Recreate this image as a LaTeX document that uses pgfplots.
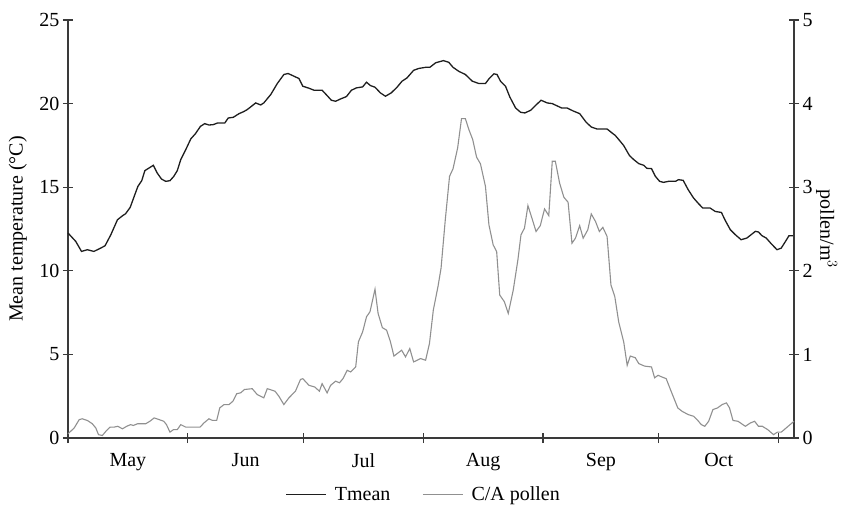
\documentclass[border=0pt]{standalone}
\usepackage{pgfplots}
\pgfplotsset{compat=1.18}
\usepackage{pgfplotstable}
\usepackage{fontspec}
\setmainfont{Liberation Serif}

\definecolor{tcol}{HTML}{1E1E1E}
\definecolor{pcol}{HTML}{909090}
\definecolor{axcol}{HTML}{3A3A3A}

% Daily mean temperature (day 0 = 1 May)
\pgfplotstableread{
day T
0.0 12.26
2.0 11.76
3.5 11.16
5.0 11.26
6.7 11.16
8.5 11.36
9.6 11.50
11.1 12.16
12.8 13.05
14.1 13.29
14.9 13.41
16.1 13.79
17.3 14.55
18.1 15.05
19.1 15.39
19.9 15.99
21.0 16.15
22.1 16.31
23.1 15.85
24.2 15.49
25.3 15.35
26.4 15.39
27.4 15.65
28.3 15.99
29.2 16.65
30.5 17.25
31.8 17.89
33.0 18.20
34.3 18.64
35.4 18.80
36.5 18.72
37.6 18.74
38.7 18.84
40.6 18.84
41.5 19.14
42.8 19.18
44.3 19.40
45.5 19.52
46.4 19.64
47.3 19.80
48.6 20.04
49.9 19.92
50.7 20.04
52.5 20.54
54.2 21.20
55.9 21.74
57.0 21.80
58.5 21.64
59.8 21.50
60.8 21.04
62.4 20.92
63.7 20.80
65.8 20.80
67.1 20.48
68.2 20.20
69.3 20.14
70.6 20.28
72.1 20.42
73.4 20.80
74.7 20.94
76.3 21.00
77.3 21.28
78.3 21.08
79.5 20.98
80.9 20.64
82.2 20.44
83.7 20.64
85.2 20.98
86.5 21.34
87.8 21.54
89.5 21.99
90.8 22.10
92.6 22.17
93.7 22.17
95.2 22.44
97.2 22.57
98.6 22.47
99.7 22.17
101.2 21.93
102.9 21.74
104.7 21.34
106.4 21.20
108.1 21.20
109.0 21.48
110.3 21.78
111.1 21.74
112.0 21.34
113.3 21.04
114.4 20.40
115.9 19.74
117.2 19.48
118.3 19.44
119.8 19.60
121.3 19.94
122.5 20.20
124.1 20.04
125.4 20.00
126.5 19.88
127.8 19.74
129.2 19.74
131.0 19.54
132.5 19.40
134.2 18.88
135.5 18.60
137.0 18.48
139.6 18.48
140.9 18.24
141.7 18.10
142.8 17.80
143.9 17.49
145.4 16.89
146.5 16.65
147.8 16.41
149.1 16.31
149.9 16.13
151.1 16.11
152.1 15.65
153.2 15.35
154.2 15.29
155.5 15.35
157.3 15.35
158.1 15.45
159.3 15.41
160.6 14.85
162.0 14.35
163.3 14.01
164.4 13.75
166.3 13.75
167.6 13.55
169.2 13.49
170.2 13.01
171.5 12.46
172.8 12.16
174.3 11.86
175.8 11.96
176.9 12.16
178.0 12.36
178.8 12.32
179.7 12.10
180.8 11.96
182.1 11.62
183.6 11.26
184.7 11.36
185.8 11.76
186.7 12.10
188.0 12.10
}\tmeantable

% Daily Cupressaceae/Anacardiaceae pollen concentration
\pgfplotstableread{
day P
0.0 0.05
1.6 0.12
2.9 0.22
3.7 0.23
5.0 0.21
6.3 0.17
7.2 0.12
7.9 0.04
8.9 0.03
9.8 0.08
10.9 0.13
11.9 0.13
12.9 0.14
14.1 0.11
15.2 0.14
16.2 0.16
16.9 0.15
18.0 0.17
20.1 0.17
21.2 0.20
22.3 0.24
23.6 0.22
24.8 0.20
25.5 0.16
26.4 0.07
27.3 0.10
28.3 0.10
29.2 0.16
30.5 0.13
34.2 0.13
35.2 0.18
36.5 0.23
37.4 0.21
38.5 0.21
39.3 0.36
40.4 0.40
41.7 0.40
42.7 0.44
43.7 0.53
44.7 0.54
45.7 0.58
47.7 0.59
49.0 0.52
50.7 0.48
51.6 0.59
53.6 0.56
54.6 0.50
55.9 0.40
57.2 0.48
58.9 0.56
60.2 0.70
60.8 0.71
62.4 0.63
63.9 0.61
65.1 0.56
65.8 0.65
67.1 0.54
68.0 0.63
69.3 0.68
70.3 0.66
71.2 0.71
72.3 0.81
73.2 0.79
74.5 0.85
75.2 1.15
76.3 1.27
77.3 1.45
78.2 1.51
79.5 1.78
80.3 1.49
81.4 1.32
82.5 1.29
83.5 1.15
84.4 0.98
86.4 1.05
87.4 0.97
88.5 1.07
89.5 0.91
91.3 0.95
92.6 0.93
93.6 1.13
94.6 1.53
95.8 1.81
96.6 2.03
97.7 2.61
98.8 3.13
99.7 3.22
100.9 3.47
101.9 3.82
102.9 3.82
103.8 3.69
104.8 3.57
105.8 3.36
106.8 3.28
108.1 3.01
109.0 2.55
110.1 2.31
111.0 2.23
111.8 1.71
113.0 1.63
114.0 1.49
115.3 1.77
116.5 2.13
117.3 2.43
118.2 2.51
119.1 2.78
120.2 2.62
121.2 2.47
122.3 2.54
123.4 2.74
124.5 2.66
125.4 3.31
126.2 3.31
127.3 3.05
128.4 2.88
129.5 2.82
130.5 2.33
131.4 2.39
132.5 2.54
133.4 2.39
134.6 2.49
135.5 2.68
136.6 2.59
137.6 2.47
138.5 2.52
139.6 2.41
140.6 1.83
141.6 1.69
142.6 1.39
143.9 1.15
144.8 0.87
145.6 0.98
146.9 0.96
147.8 0.89
149.3 0.86
151.1 0.85
151.9 0.72
152.8 0.75
153.8 0.73
154.9 0.71
156.0 0.58
157.9 0.36
159.0 0.32
160.6 0.28
162.0 0.26
162.9 0.22
164.0 0.16
164.9 0.14
165.9 0.20
167.0 0.34
168.2 0.36
169.4 0.40
170.5 0.42
171.3 0.36
172.2 0.21
173.5 0.20
175.4 0.14
176.7 0.18
177.8 0.20
178.8 0.14
179.8 0.14
181.2 0.10
182.7 0.04
183.7 0.07
184.7 0.07
188.0 0.20
}\pollentable

\pgfplotsset{
  common/.style={
    scale only axis,
    width=726bp, height=418bp,
    xmin=0, xmax=188,
    axis line style={axcol, line width=1.1bp},
    every tick/.style={axcol, line width=1.1bp},
    tick align=center,
    major tick length=10bp,
    /pgf/number format/assume math mode=true,
    clip=false,
  },
}

\begin{document}
\begin{tikzpicture}[font=\fontsize{20bp}{24bp}\selectfont]
\begin{axis}[
  common,
  axis x line*=bottom,
  axis y line*=left,
  ymin=0, ymax=25,
  ytick={0,5,10,15,20,25},
  xtick={0,31,61,92,123,153,184},
  xticklabels={May,Jun,Jul,Aug,Sep,Oct},
  x tick label as interval,
  xticklabel style={yshift=-7bp},
  ylabel={Mean temperature (°C)},
  every axis y label/.style={at={(axis description cs:-0.069,0.5)}, anchor=center, rotate=90},
]
\addplot[tcol, line width=1.3bp] table[x=day, y=T] {\tmeantable};
\end{axis}

\begin{axis}[
  common,
  axis y line*=right,
  axis x line=none,
  ymin=0, ymax=5,
  ytick={0,1,2,3,4,5},
  ylabel={pollen/m$^{3}$},
  every axis y label/.style={at={(axis description cs:1.045,0.5)}, anchor=center, rotate=-90},
  legend columns=2,
  legend style={
    draw=none, fill=none,
    at={(axis description cs:0.49,-0.135)}, anchor=center,
    /tikz/every odd column/.append style={column sep=6bp},
    /tikz/every even column/.append style={column sep=30bp},
  },
  legend image code/.code={\draw[#1] (0bp,0bp) -- (40bp,0bp);},
]
\addlegendimage{tcol, line width=1.3bp}
\addlegendentry{Tmean}
\addplot[pcol, line width=1.1bp] table[x=day, y=P] {\pollentable};
\addlegendentry{C/A pollen}
\end{axis}

\pgfresetboundingbox
\path[use as bounding box] (-68bp,-69bp) rectangle (777bp,438bp);
\end{tikzpicture}
\end{document}
